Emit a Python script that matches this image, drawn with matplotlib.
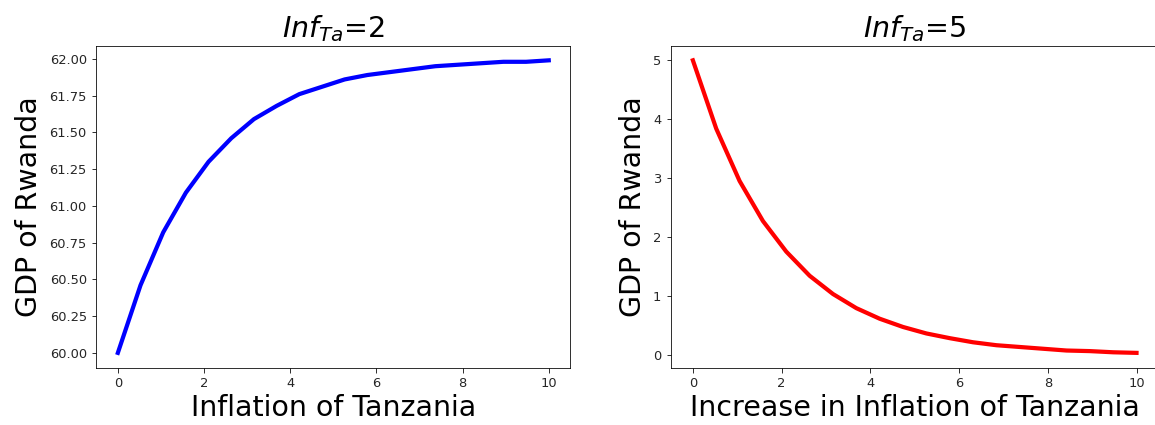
import matplotlib
matplotlib.use("Agg")
import matplotlib.pyplot as plt

# x grid (20 points from 0 to 10)
x_values = [0.0, 0.526, 1.053, 1.579, 2.105, 2.632, 3.158, 3.684, 4.211, 4.737,
            5.263, 5.789, 6.316, 6.842, 7.368, 7.895, 8.421, 8.947, 9.474, 10.0]

gdp_left = [60.00, 60.46, 60.82, 61.09, 61.30, 61.46, 61.59, 61.68, 61.76, 61.81,
            61.86, 61.89, 61.91, 61.93, 61.95, 61.96, 61.97, 61.98, 61.98, 61.99]

gdp_right = [5.00, 3.84, 2.95, 2.27, 1.75, 1.34, 1.03, 0.79, 0.61, 0.47,
             0.36, 0.28, 0.21, 0.16, 0.13, 0.10, 0.07, 0.06, 0.04, 0.03]

titles = [r"$Inf_{Ta}$=2", r"$Inf_{Ta}$=5"]
xlabels = ["Inflation of Tanzania", "Increase in Inflation of Tanzania"]
ylabel = "GDP of Rwanda"
left_yticks = [60.00, 60.25, 60.50, 60.75, 61.00, 61.25, 61.50, 61.75, 62.00]
left_yticklabels = ["60.00", "60.25", "60.50", "60.75", "61.00", "61.25",
                    "61.50", "61.75", "62.00"]

W, H = 1155, 425
dpi = 72
fig = plt.figure(figsize=(W / dpi, H / dpi), dpi=dpi)

ax1 = fig.add_axes([96.3 / W, 1 - 367.5 / H, 474 / W, (367.5 - 45.7) / H])
ax2 = fig.add_axes([670.7 / W, 1 - 367.5 / H, 488 / W, (367.5 - 45.7) / H])

ax1.plot(x_values, gdp_left, color="blue", linewidth=4.2)
ax2.plot(x_values, gdp_right, color="red", linewidth=4.2)

for ax, t, xl in zip([ax1, ax2], titles, xlabels):
    ax.set_title(t, fontsize=28.5, pad=8)
    ax.set_xlabel(xl, fontsize=28.5, labelpad=4)
    ax.set_ylabel(ylabel, fontsize=28.5, labelpad=6)
    ax.tick_params(length=4.5, pad=5, labelsize=13, labelcolor="#262626")

ax1.set_yticks(left_yticks)
ax1.set_yticklabels(left_yticklabels)

fig.savefig("out.png", dpi=dpi)
